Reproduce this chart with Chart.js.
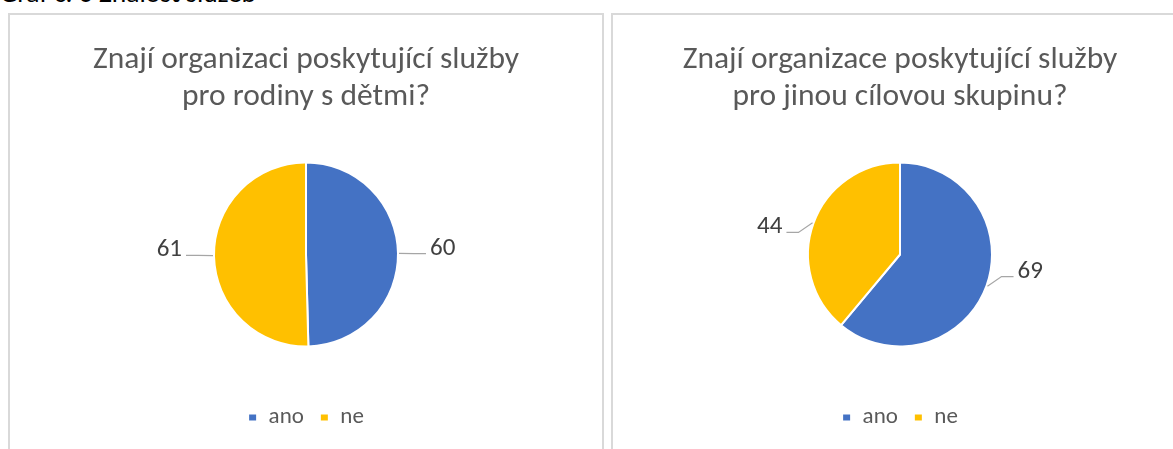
<!DOCTYPE html>
<html>
<head>
<meta charset="utf-8">
<script src="https://cdn.jsdelivr.net/npm/chart.js@4/dist/chart.umd.min.js"></script>
<style>
  html, body { margin: 0; padding: 0; background: #fff; overflow: hidden; }
  body { width: 1173px; height: 449px; position: relative; font-family: Carlito, Calibri, Lato, sans-serif; }
  .caption { position: absolute; left: 0; top: -24px; font-size: 27.5px; line-height: 34px; color: #000; white-space: nowrap; }
  .panel { position: absolute; top: 13px; height: 480px; border: 2px solid #d9d9d9; box-sizing: border-box; }
  .panel canvas { position: absolute; left: 0; top: 0; }
</style>
</head>
<body>
<div class="caption">Graf č. 6 Znalost služeb</div>
<div class="panel" style="left:8px; width:596px;"><canvas id="pieFamily"></canvas></div>
<div class="panel" style="left:611px; width:578px;"><canvas id="pieOther"></canvas></div>
<script>
const categories = ['ano', 'ne'];
const familyValues = [60, 61];
const otherValues = [69, 44];
const familyTitle = ['Znají organizaci poskytující služby', 'pro rodiny s dětmi?'];
const otherTitle = ['Znají organizace poskytující služby', 'pro jinou cílovou skupinu?'];
const colors = ['#4472C4', '#FFC000'];

const FONT = 'Carlito, Calibri, Lato, sans-serif';

// leader lines + value labels outside the slices
const outsideLabels = {
    id: 'outsideLabels',
    afterDatasetsDraw(chart) {
        const ctx = chart.ctx;
        const meta = chart.getDatasetMeta(0);
        const values = chart.data.datasets[0].data;
        ctx.save();
        meta.data.forEach((arc, i) => {
            const p = arc.getProps(['x', 'y', 'startAngle', 'endAngle', 'outerRadius']);
            const mid = (p.startAngle + p.endAngle) / 2;
            const r = p.outerRadius;
            const sx = p.x + Math.cos(mid) * (r + 1);
            const sy = p.y + Math.sin(mid) * (r + 1);
            const ex = p.x + Math.cos(mid) * (r + 16);
            const ey = p.y + Math.sin(mid) * (r + 16) * 0.6;
            const dir = Math.cos(mid) >= 0 ? 1 : -1;
            const hx = ex + dir * 12;
            ctx.strokeStyle = '#a6a6a6';
            ctx.lineWidth = 1.2;
            ctx.beginPath();
            ctx.moveTo(sx, sy);
            ctx.lineTo(ex, ey);
            ctx.lineTo(hx, ey);
            ctx.stroke();
            ctx.fillStyle = '#404040';
            ctx.font = '25px ' + FONT;
            ctx.textBaseline = 'alphabetic';
            ctx.textAlign = dir > 0 ? 'left' : 'right';
            ctx.fillText(String(values[i]), hx + dir * 4, ey + 1);
        });
        ctx.restore();
    }
};

function makePie(id, w, title, values) {
    const canvas = document.getElementById(id);
    canvas.width = w;
    canvas.height = 450;
    canvas.style.width = w + 'px';
    canvas.style.height = '450px';
    return new Chart(canvas.getContext('2d'), {
        type: 'pie',
        data: {
            labels: categories,
            datasets: [{
                data: values,
                backgroundColor: colors,
                borderColor: '#ffffff',
                borderWidth: 2,
                radius: 92
            }]
        },
        options: {
            responsive: false,
            animation: false,
            events: [],
            layout: { padding: { bottom: 26 } },
            plugins: {
                title: {
                    display: true,
                    text: title,
                    color: '#595959',
                    font: { family: FONT, size: 31.5, weight: 'normal', lineHeight: 1.175 },
                    padding: { top: 27, bottom: 3 }
                },
                legend: {
                    position: 'bottom',
                    labels: {
                        color: '#595959',
                        font: { family: FONT, size: 23 },
                        boxWidth: 9,
                        boxHeight: 8,
                        padding: 16
                    }
                },
                tooltip: { enabled: false }
            }
        },
        plugins: [outsideLabels]
    });
}

makePie('pieFamily', 592, familyTitle, familyValues);
makePie('pieOther', 574, otherTitle, otherValues);
</script>
</body>
</html>
